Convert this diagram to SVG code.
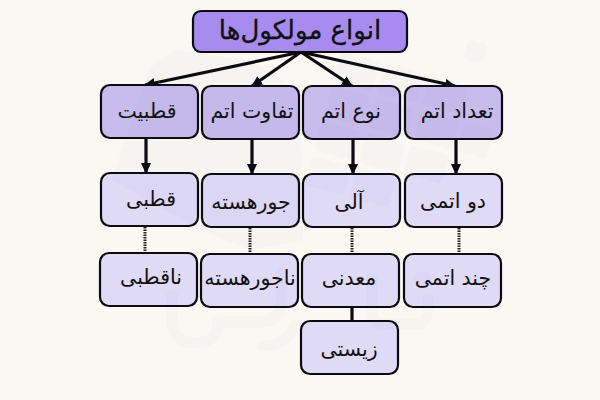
<svg xmlns="http://www.w3.org/2000/svg" width="600" height="400" viewBox="0 0 600 400">
<style>
.n{stroke:#0a0a0f;stroke-width:2.2;}
.r{fill:#a78bef}.a{fill:#c7bcec}.b{fill:#dfdaf5}
text{font-family:"DejaVu Sans",sans-serif;font-size:20.5px;fill:#111;text-anchor:middle;direction:rtl}
.c{fill:none;stroke:#0a0a0f;stroke-width:3.2}
.d{fill:none;stroke:#222;stroke-width:3;stroke-dasharray:1.5 1}
.w{fill:#5050b4;fill-opacity:.022}
.s{fill:none;stroke:#5050b4;stroke-opacity:.022;stroke-width:11;stroke-linecap:round;stroke-linejoin:round}
</style>
<defs><marker id="m" markerUnits="userSpaceOnUse" markerWidth="12" markerHeight="12" refX="10" refY="5" orient="auto"><path d="M0 0L11 5L0 10Z" fill="#0a0a0f"/></marker></defs>
<rect width="600" height="400" fill="#faf8f3"/>
<g id="connectors">
<path class="c" d="M301 52L145 85" marker-end="url(#m)"/>
<path class="c" d="M301 52L252 86" marker-end="url(#m)"/>
<path class="c" d="M301 52L352 86" marker-end="url(#m)"/>
<path class="c" d="M301 52L455 86" marker-end="url(#m)"/>
<path class="c" d="M146 138V173" marker-end="url(#m)"/>
<path class="c" d="M252 139V174" marker-end="url(#m)"/>
<path class="c" d="M353 139V174" marker-end="url(#m)"/>
<path class="c" d="M456 139V174" marker-end="url(#m)"/>
<path class="d" d="M145 227V251"/>
<path class="d" d="M250 228V253"/>
<path class="d" d="M352 228V253"/>
<path class="d" d="M459 228V253"/>
<path class="c" d="M352 307V321"/>
</g>
<g id="root"><rect class="n r" x="193" y="11" width="214" height="41" rx="8"/><text x="300" y="39" style="font-size:26px;stroke:#111;stroke-width:.3">انواع مولکول‌ها</text></g>
<g id="n1"><rect class="n a" x="101" y="85" width="97" height="53" rx="9"/><text x="147" y="118">قطبیت</text></g>
<g id="n2"><rect class="n a" x="202" y="86" width="97" height="53" rx="9"/><text x="252" y="118">تفاوت اتم</text></g>
<g id="n3"><rect class="n a" x="303" y="86" width="97" height="53" rx="9"/><text x="351" y="118">نوع اتم</text></g>
<g id="n4"><rect class="n a" x="405" y="86" width="97" height="53" rx="9"/><text x="457" y="118">تعداد اتم</text></g>
<g id="n5"><rect class="n b" x="101" y="173" width="97" height="53" rx="9"/><text x="151" y="206">قطبی</text></g>
<g id="n6"><rect class="n b" x="202" y="174" width="97" height="53" rx="9"/><text x="251" y="209">جورهسته</text></g>
<g id="n7"><rect class="n b" x="303" y="174" width="97" height="53" rx="9"/><text x="349" y="209">آلی</text></g>
<g id="n8"><rect class="n b" x="405" y="174" width="97" height="53" rx="9"/><text x="453" y="208">دو اتمی</text></g>
<g id="n9"><rect class="n b" x="100" y="253" width="97" height="53" rx="9"/><text x="151" y="284">ناقطبی</text></g>
<g id="n10"><rect class="n b" x="201" y="254" width="97" height="53" rx="9"/><text x="250" y="285">ناجورهسته</text></g>
<g id="n11"><rect class="n b" x="302" y="254" width="97" height="53" rx="9"/><text x="349" y="285">معدنی</text></g>
<g id="n12"><rect class="n b" x="404" y="254" width="97" height="53" rx="9"/><text x="453" y="285">چند اتمی</text></g>
<g id="n13"><rect class="n b" x="301" y="321" width="97" height="53" rx="9"/><text x="349" y="356">زیستی</text></g>
<g id="watermark">
<polygon class="w" points="173,50 250,60 300,90 303,240 250,250 200,230 112,180 125,140 150,68"/>
<g class="w" transform="rotate(15 400 140)">
<rect x="320" y="70" width="40" height="30" rx="4"/><rect x="366" y="70" width="40" height="30" rx="4"/><rect x="412" y="70" width="40" height="30" rx="4"/>
<rect x="320" y="106" width="40" height="30" rx="4"/><rect x="366" y="106" width="40" height="30" rx="4"/><rect x="412" y="106" width="40" height="30" rx="4"/><rect x="458" y="106" width="30" height="30" rx="4"/>
<rect x="320" y="142" width="40" height="30" rx="4"/><rect x="366" y="142" width="40" height="30" rx="4"/><rect x="412" y="142" width="40" height="30" rx="4"/>
<rect x="320" y="178" width="40" height="30" rx="4"/><rect x="366" y="178" width="40" height="30" rx="4"/>
<rect x="440" y="25" width="20" height="20" rx="4"/>
</g>
<path class="s" d="M172 296V320Q172 343 195 343Q218 343 218 322H262Q280 322 282 300V272"/>
<path class="s" d="M262 346Q286 346 295 325M372 278V310Q372 324 385 324H420Q428 324 428 300"/>
<circle class="w" cx="423" cy="280" r="9"/>
</g>
</svg>
